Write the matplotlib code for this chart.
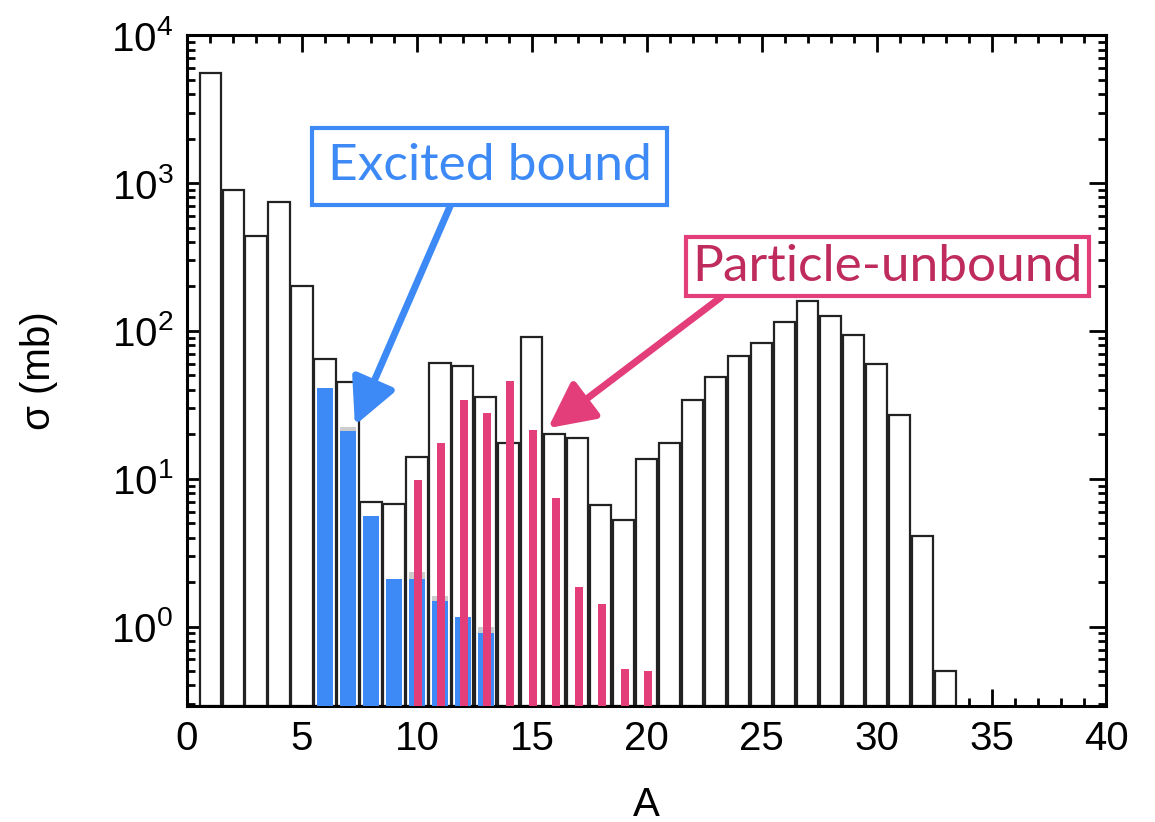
import matplotlib
matplotlib.use('Agg')
import matplotlib.pyplot as plt
import numpy as np
from matplotlib.ticker import MultipleLocator, LogLocator, NullFormatter

# total cross section per mass number A
A_all = list(range(1, 34))
sigma_all = [5600, 900, 440, 740, 200, 65, 45, 7.0, 6.8, 14, 61, 58, 36, 17.5, 91,
             20, 19, 6.7, 5.3, 13.7, 17.5, 34, 49, 68, 83, 115, 160, 126, 94, 60,
             27, 4.1, 0.5]

# excited bound states (blue) and the grey caps above some of them
A_bound = [6, 7, 8, 9, 10, 11, 12, 13]
sigma_bound = [41, 21, 5.6, 2.1, 2.1, 1.5, 1.17, 0.9]
sigma_bound_cap = [41, 22.5, 5.6, 2.1, 2.35, 1.6, 1.17, 1.0]

# particle-unbound states (pink)
A_unbound = [10, 11, 12, 13, 14, 15, 16, 17, 18, 19, 20]
sigma_unbound = [9.8, 17.5, 34, 28, 46, 21.5, 7.4, 1.86, 1.43, 0.52, 0.5]

blue = '#3d8af7'
pink = '#e33d7a'
ymin = 0.29

plt.rcParams['font.family'] = ['Liberation Sans', 'DejaVu Sans']

fig = plt.figure(figsize=(11.55, 8.22), dpi=100)
ax = fig.add_axes([0.162, 0.141, 0.796, 0.816])

ax.bar(A_all, np.array(sigma_all) - ymin, bottom=ymin, width=0.92,
       facecolor='white', edgecolor='#222222', linewidth=1.6, zorder=2)
ax.bar(A_bound, np.array(sigma_bound_cap) - ymin, bottom=ymin, width=0.72,
       color='#cccccc', zorder=3)
ax.bar(A_bound, np.array(sigma_bound) - ymin, bottom=ymin, width=0.72,
       color=blue, zorder=4)
ax.bar(np.array(A_unbound) + 0.05, np.array(sigma_unbound) - ymin, bottom=ymin,
       width=0.36, color=pink, zorder=5)

ax.set_yscale('log')
ax.set_xlim(0, 40)
ax.set_ylim(ymin, 1e4)

ax.xaxis.set_major_locator(MultipleLocator(5))
ax.xaxis.set_minor_locator(MultipleLocator(1))
ax.yaxis.set_major_locator(LogLocator(base=10, numticks=10))
ax.yaxis.set_minor_locator(LogLocator(base=10, subs=np.arange(2, 10), numticks=20))
ax.yaxis.set_minor_formatter(NullFormatter())

ax.tick_params(which='both', direction='in', top=True, right=True, width=2)
ax.tick_params(which='major', length=12, labelsize=29, pad=10)
ax.tick_params(which='minor', length=6)
for s in ax.spines.values():
    s.set_linewidth(2.2)

ax.set_xlabel('A', fontsize=29, labelpad=20)
ax.set_ylabel('σ (mb)', fontsize=29, labelpad=38)

ax.annotate('Excited bound', xy=(7.3, 23), xytext=(13.17, 1300),
            fontsize=37, color=blue, family=['Lato', 'DejaVu Sans'],
            ha='center', va='center', zorder=10,
            bbox=dict(boxstyle='square,pad=0.3', fc='white', ec=blue, lw=3),
            arrowprops=dict(arrowstyle='-|>,head_length=1.4,head_width=0.7',
                            mutation_scale=20, relpos=(0.4, 0.0),
                            color=blue, lw=5, shrinkA=0, shrinkB=0))
ax.annotate('Particle-unbound', xy=(15.7, 22), xytext=(30.46, 273),
            fontsize=37, color='#bf2b5c', family=['Lato', 'DejaVu Sans'],
            ha='center', va='center', zorder=10,
            bbox=dict(boxstyle='square,pad=0.12', fc='white', ec=pink, lw=3),
            arrowprops=dict(arrowstyle='-|>,head_length=1.4,head_width=0.7',
                            mutation_scale=20, relpos=(0.1, 0.0),
                            color=pink, lw=5, shrinkA=0, shrinkB=0))

fig.savefig('out.png', dpi=100)
